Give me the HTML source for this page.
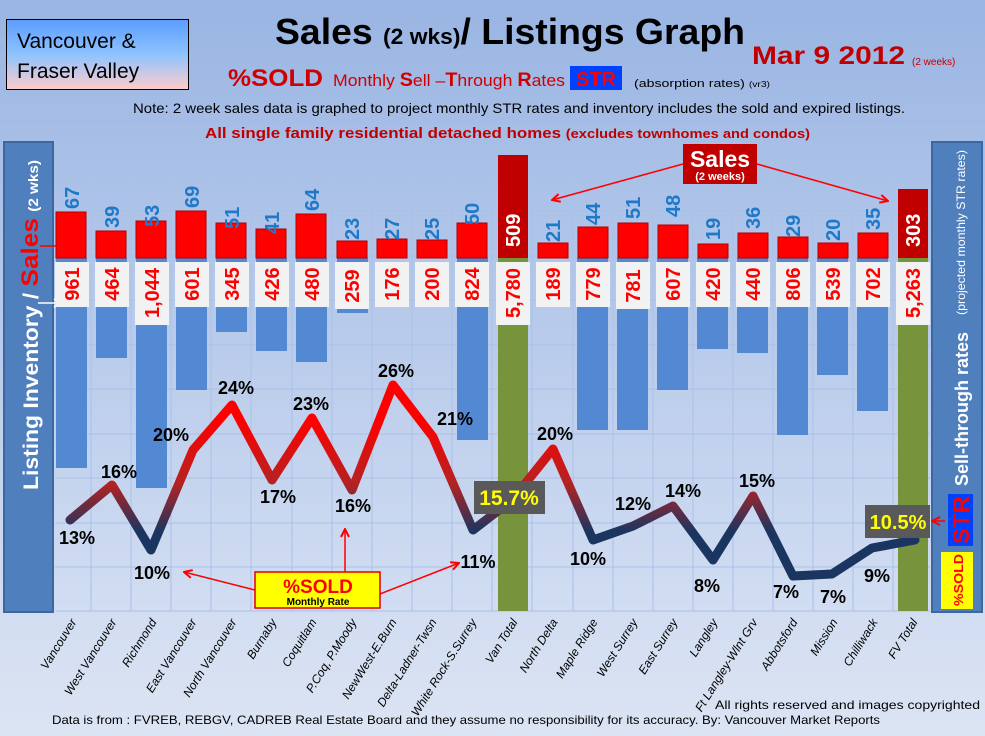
<!DOCTYPE html>
<html><head><meta charset="utf-8"><style>
html,body{margin:0;padding:0;width:985px;height:736px;overflow:hidden;font-family:"Liberation Sans",sans-serif}
</style></head><body>
<svg width="985" height="736" viewBox="0 0 985 736" xmlns="http://www.w3.org/2000/svg" font-family="Liberation Sans, sans-serif">
<defs>
<linearGradient id="bg" x1="0" y1="0" x2="0" y2="1"><stop offset="0" stop-color="#9ab5e3"/><stop offset="0.85" stop-color="#d3def2"/><stop offset="1" stop-color="#dbe4f3"/></linearGradient>
<linearGradient id="vb" x1="0" y1="0" x2="0" y2="1"><stop offset="0" stop-color="#5b9dff"/><stop offset="0.5" stop-color="#8ec3ff"/><stop offset="1" stop-color="#ffcccc"/></linearGradient>
<linearGradient id="ln" gradientUnits="userSpaceOnUse" x1="0" y1="420" x2="0" y2="560"><stop offset="0" stop-color="#ff0000"/><stop offset="0.45" stop-color="#b52222"/><stop offset="0.8" stop-color="#1a3560"/><stop offset="1" stop-color="#1a3560"/></linearGradient>
<marker id="ar" markerWidth="10" markerHeight="10" refX="9" refY="5" orient="auto" markerUnits="userSpaceOnUse"><path d="M1,1 L9,5 L1,9" fill="none" stroke="#f00" stroke-width="2"/></marker>
<marker id="aw" markerWidth="10" markerHeight="10" refX="9" refY="5" orient="auto" markerUnits="userSpaceOnUse"><path d="M1,1 L9,5 L1,9" fill="none" stroke="#fff" stroke-width="2"/></marker>
</defs>
<rect width="985" height="736" fill="url(#bg)"/>
<!-- grid -->
<g stroke="#a9c1e9" stroke-width="1">
<line x1="55" y1="167" x2="930" y2="167"/><line x1="55" y1="211" x2="930" y2="211"/><line x1="55" y1="256" x2="930" y2="256"/><line x1="55" y1="300" x2="930" y2="300"/><line x1="55" y1="345" x2="930" y2="345"/><line x1="55" y1="389" x2="930" y2="389"/><line x1="55" y1="434" x2="930" y2="434"/><line x1="55" y1="478" x2="930" y2="478"/><line x1="55" y1="523" x2="930" y2="523"/><line x1="55" y1="567" x2="930" y2="567"/><line x1="55" y1="611" x2="930" y2="611"/>
<line x1="91" y1="155" x2="91" y2="611"/><line x1="131" y1="155" x2="131" y2="611"/><line x1="171" y1="155" x2="171" y2="611"/><line x1="211" y1="155" x2="211" y2="611"/><line x1="251" y1="155" x2="251" y2="611"/><line x1="292" y1="155" x2="292" y2="611"/><line x1="332" y1="155" x2="332" y2="611"/><line x1="372" y1="155" x2="372" y2="611"/><line x1="412" y1="155" x2="412" y2="611"/><line x1="452" y1="155" x2="452" y2="611"/><line x1="492" y1="155" x2="492" y2="611"/><line x1="532" y1="155" x2="532" y2="611"/><line x1="573" y1="155" x2="573" y2="611"/><line x1="613" y1="155" x2="613" y2="611"/><line x1="653" y1="155" x2="653" y2="611"/><line x1="693" y1="155" x2="693" y2="611"/><line x1="733" y1="155" x2="733" y2="611"/><line x1="773" y1="155" x2="773" y2="611"/><line x1="813" y1="155" x2="813" y2="611"/><line x1="853" y1="155" x2="853" y2="611"/><line x1="893" y1="155" x2="893" y2="611"/>
</g>
<!-- header -->
<rect x="6.5" y="19.5" width="182" height="70" fill="url(#vb)" stroke="#000"/>
<text x="17" y="48" font-size="21">Vancouver &amp;</text>
<text x="17" y="78" font-size="21">Fraser Valley</text>
<text x="510" y="44" font-size="36" font-weight="bold" text-anchor="middle" textLength="470" lengthAdjust="spacingAndGlyphs">Sales <tspan font-size="22">(2 wks)</tspan>/ Listings Graph</text>
<text x="752" y="64" font-size="25" font-weight="bold" fill="#c00000" textLength="153" lengthAdjust="spacingAndGlyphs">Mar 9 2012</text>
<text x="912" y="65" font-size="10" fill="#c00000">(2 weeks)</text>
<text x="228" y="86" font-size="24" font-weight="bold" fill="#d00000" textLength="95" lengthAdjust="spacingAndGlyphs">%SOLD</text>
<text x="333" y="86" font-size="17" fill="#d00000" textLength="232" lengthAdjust="spacingAndGlyphs">Monthly <tspan font-weight="bold" font-size="19">S</tspan>ell –<tspan font-weight="bold" font-size="19">T</tspan>hrough <tspan font-weight="bold" font-size="19">R</tspan>ates</text>
<rect x="570" y="66" width="52" height="24" fill="#0040ff"/>
<text x="596" y="86" font-size="20" font-weight="bold" fill="#f00" text-anchor="middle">STR</text>
<text x="634" y="87" font-size="11" fill="#000" textLength="136" lengthAdjust="spacingAndGlyphs">(absorption rates) <tspan font-size="8">(vr3)</tspan></text>
<text x="133" y="113" font-size="14" textLength="772" lengthAdjust="spacingAndGlyphs">Note: 2 week sales data is graphed to project monthly STR rates and inventory includes the sold and expired listings.</text>
<text x="205" y="138" font-size="15" font-weight="bold" fill="#c00000" textLength="605" lengthAdjust="spacingAndGlyphs">All single family residential detached homes <tspan font-size="13">(excludes townhomes and condos)</tspan></text>
<!-- side panels -->
<rect x="4" y="142" width="49" height="470" fill="#4f7fbd" stroke="#3d679f" stroke-width="2"/>
<text transform="translate(38,490) rotate(-90)" font-size="21" font-weight="bold" fill="#fff" textLength="330" lengthAdjust="spacingAndGlyphs">Listing Inventory / <tspan fill="#f00" font-size="24">Sales</tspan> <tspan font-size="14">(2  wks)</tspan></text>
<line x1="40" y1="246" x2="66" y2="246" stroke="#f00" stroke-width="1.5" marker-end="url(#ar)"/>
<line x1="38" y1="303" x2="62" y2="303" stroke="#fff" stroke-width="1.5" marker-end="url(#aw)"/>
<rect x="932" y="142" width="50" height="470" fill="#4f7fbd" stroke="#3d679f" stroke-width="2"/>
<text transform="translate(968,486) rotate(-90)" font-size="18" font-weight="bold" fill="#fff" textLength="154" lengthAdjust="spacingAndGlyphs">Sell-through rates</text>
<text transform="translate(965,315) rotate(-90)" font-size="12" fill="#fff" textLength="165" lengthAdjust="spacingAndGlyphs">(projected monthly STR rates)</text>
<rect x="948" y="494" width="25" height="52" fill="#0040ff"/>
<text transform="translate(969,544) rotate(-90)" font-size="22" font-weight="bold" fill="#f00" textLength="48" lengthAdjust="spacingAndGlyphs">STR</text>
<rect x="941" y="552" width="32" height="57" fill="#ff0"/>
<text transform="translate(963,606) rotate(-90)" font-size="13" font-weight="bold" fill="#f00" textLength="52" lengthAdjust="spacingAndGlyphs">%SOLD</text>
<!-- olive total bars -->
<rect x="498" y="258" width="30" height="353" fill="#77933c"/>
<rect x="898" y="258" width="30" height="353" fill="#77933c"/>
<!-- blue bars -->
<g fill="#5389d3">
<rect x="56" y="258" width="31" height="210"/><rect x="96" y="258" width="31" height="100"/><rect x="136" y="258" width="31" height="230"/><rect x="176" y="258" width="31" height="132"/><rect x="216" y="258" width="31" height="74"/><rect x="256" y="258" width="31" height="93"/><rect x="296" y="258" width="31" height="104"/><rect x="337" y="258" width="31" height="55"/><rect x="457" y="258" width="31" height="182"/><rect x="577" y="258" width="31" height="172"/><rect x="617" y="258" width="31" height="172"/><rect x="657" y="258" width="31" height="132"/><rect x="697" y="258" width="31" height="91"/><rect x="737" y="258" width="31" height="95"/><rect x="777" y="258" width="31" height="177"/><rect x="817" y="258" width="31" height="117"/><rect x="857" y="258" width="31" height="153"/>
</g>
<!-- red bars -->
<g fill="#ff0000" stroke="#b00000" stroke-width="1">
<rect x="56" y="212" width="30" height="46"/><rect x="96" y="231" width="30" height="27"/><rect x="136" y="221" width="30" height="37"/><rect x="176" y="211" width="30" height="47"/><rect x="216" y="223" width="30" height="35"/><rect x="256" y="229" width="30" height="29"/><rect x="296" y="214" width="30" height="44"/><rect x="337" y="241" width="30" height="17"/><rect x="377" y="239" width="30" height="19"/><rect x="417" y="240" width="30" height="18"/><rect x="457" y="223" width="30" height="35"/><rect x="538" y="243" width="30" height="15"/><rect x="578" y="227" width="30" height="31"/><rect x="618" y="223" width="30" height="35"/><rect x="658" y="225" width="30" height="33"/><rect x="698" y="244" width="30" height="14"/><rect x="738" y="233" width="30" height="25"/><rect x="778" y="237" width="30" height="21"/><rect x="818" y="243" width="30" height="15"/><rect x="858" y="233" width="30" height="25"/>
</g>
<rect x="498" y="155" width="30" height="103" fill="#c00000"/>
<rect x="898" y="189" width="30" height="69" fill="#c00000"/>
<!-- blue sales labels -->
<g font-size="20" font-weight="bold" fill="#1f78c8">
<text transform="translate(79,209) rotate(-90)">67</text><text transform="translate(119,228) rotate(-90)">39</text><text transform="translate(159,227) rotate(-90)">53</text><text transform="translate(199,208) rotate(-90)">69</text><text transform="translate(239,229) rotate(-90)">51</text><text transform="translate(279,234) rotate(-90)">41</text><text transform="translate(319,211) rotate(-90)">64</text><text transform="translate(359,240) rotate(-90)">23</text><text transform="translate(399,240) rotate(-90)">27</text><text transform="translate(439,240) rotate(-90)">25</text><text transform="translate(479,225) rotate(-90)">50</text><text transform="translate(560,242) rotate(-90)">21</text><text transform="translate(600,225) rotate(-90)">44</text><text transform="translate(640,219) rotate(-90)">51</text><text transform="translate(680,217) rotate(-90)">48</text><text transform="translate(720,240) rotate(-90)">19</text><text transform="translate(760,229) rotate(-90)">36</text><text transform="translate(800,237) rotate(-90)">29</text><text transform="translate(840,241) rotate(-90)">20</text><text transform="translate(880,230) rotate(-90)">35</text>
</g>
<text transform="translate(520,247) rotate(-90)" font-size="20" font-weight="bold" fill="#fff">509</text>
<text transform="translate(920,247) rotate(-90)" font-size="20" font-weight="bold" fill="#fff">303</text>
<!-- inventory label boxes -->
<g fill="#f2f2f2">
<rect x="55" y="262" width="34" height="45"/><rect x="95" y="262" width="34" height="45"/><rect x="135" y="262" width="34" height="63"/><rect x="175" y="262" width="34" height="45"/><rect x="215" y="262" width="34" height="45"/><rect x="255" y="262" width="34" height="45"/><rect x="295" y="262" width="34" height="45"/><rect x="335" y="262" width="34" height="47"/><rect x="375" y="262" width="34" height="45"/><rect x="415" y="262" width="34" height="45"/><rect x="455" y="262" width="34" height="45"/><rect x="496" y="262" width="34" height="63"/><rect x="536" y="262" width="34" height="45"/><rect x="576" y="262" width="34" height="45"/><rect x="616" y="262" width="34" height="47"/><rect x="656" y="262" width="34" height="45"/><rect x="696" y="262" width="34" height="45"/><rect x="736" y="262" width="34" height="45"/><rect x="776" y="262" width="34" height="45"/><rect x="816" y="262" width="34" height="45"/><rect x="856" y="262" width="34" height="45"/><rect x="896" y="262" width="34" height="63"/>
</g>
<g font-size="20" font-weight="bold" fill="#f00" text-anchor="middle">
<text transform="translate(79,284) rotate(-90)">961</text><text transform="translate(119,284) rotate(-90)">464</text><text transform="translate(159,293) rotate(-90)">1,044</text><text transform="translate(199,284) rotate(-90)">601</text><text transform="translate(239,284) rotate(-90)">345</text><text transform="translate(279,284) rotate(-90)">426</text><text transform="translate(319,284) rotate(-90)">480</text><text transform="translate(359,286) rotate(-90)">259</text><text transform="translate(399,284) rotate(-90)">176</text><text transform="translate(439,284) rotate(-90)">200</text><text transform="translate(479,284) rotate(-90)">824</text><text transform="translate(520,293) rotate(-90)">5,780</text><text transform="translate(560,284) rotate(-90)">189</text><text transform="translate(600,284) rotate(-90)">779</text><text transform="translate(640,286) rotate(-90)">781</text><text transform="translate(680,284) rotate(-90)">607</text><text transform="translate(720,284) rotate(-90)">420</text><text transform="translate(760,284) rotate(-90)">440</text><text transform="translate(800,284) rotate(-90)">806</text><text transform="translate(840,284) rotate(-90)">539</text><text transform="translate(880,284) rotate(-90)">702</text><text transform="translate(920,293) rotate(-90)">5,263</text>
</g>
<!-- STR line -->
<polyline points="70,520 112,485 151,550 193,450 232,405 272,480 312,418 352,490 393,385 433,437 473,530 512,500 553,449 593,540 633,526 673,506 713,560 753,496 793,576 832,574 872,548 915,540" fill="none" stroke="url(#ln)" stroke-width="9" stroke-linejoin="round" stroke-linecap="round"/>
<g font-size="18" font-weight="bold" fill="#000" text-anchor="middle">
<text x="77" y="544">13%</text><text x="119" y="478">16%</text><text x="152" y="579">10%</text><text x="171" y="441">20%</text><text x="236" y="394">24%</text><text x="278" y="503">17%</text><text x="311" y="410">23%</text><text x="353" y="512">16%</text><text x="396" y="377">26%</text><text x="455" y="425">21%</text><text x="478" y="568">11%</text><text x="555" y="440">20%</text><text x="588" y="565">10%</text><text x="633" y="510">12%</text><text x="683" y="497">14%</text><text x="757" y="487">15%</text><text x="707" y="592">8%</text><text x="786" y="598">7%</text><text x="833" y="603">7%</text><text x="877" y="582">9%</text>
</g>
<rect x="474" y="481" width="71" height="33" fill="#595959"/>
<text x="509" y="505" font-size="21" font-weight="bold" fill="#ff0" text-anchor="middle">15.7%</text>
<rect x="865" y="505" width="65" height="33" fill="#595959"/>
<text x="898" y="529" font-size="20" font-weight="bold" fill="#ff0" text-anchor="middle">10.5%</text>
<line x1="945" y1="521" x2="932" y2="521" stroke="#f00" stroke-width="1.5" marker-end="url(#ar)"/>
<!-- Sales callout -->
<line x1="683" y1="164" x2="552" y2="200" stroke="#f00" stroke-width="1.5" marker-end="url(#ar)"/>
<line x1="757" y1="164" x2="888" y2="201" stroke="#f00" stroke-width="1.5" marker-end="url(#ar)"/>
<rect x="683" y="144" width="74" height="40" fill="#c00000"/>
<text x="720" y="167" font-size="23" font-weight="bold" fill="#fff" text-anchor="middle">Sales</text>
<text x="720" y="180" font-size="11" font-weight="bold" fill="#fff" text-anchor="middle">(2 weeks)</text>
<!-- %SOLD callout -->
<line x1="255" y1="590" x2="184" y2="572" stroke="#f00" stroke-width="1.5" marker-end="url(#ar)"/>
<line x1="345" y1="572" x2="345" y2="529" stroke="#f00" stroke-width="1.5" marker-end="url(#ar)"/>
<line x1="380" y1="594" x2="459" y2="563" stroke="#f00" stroke-width="1.5" marker-end="url(#ar)"/>
<rect x="255" y="572" width="125" height="36" fill="#ff0" stroke="#e00000" stroke-width="1.5"/>
<text x="318" y="593" font-size="19" font-weight="bold" fill="#f00" text-anchor="middle">%SOLD</text>
<text x="318" y="605" font-size="10" font-weight="bold" fill="#000" text-anchor="middle">Monthly Rate</text>
<!-- category labels -->
<g font-size="12" font-style="italic" fill="#000" text-anchor="end">
<text transform="translate(77,622) rotate(-58)">Vancouver</text><text transform="translate(117,622) rotate(-58)">West Vancouver</text><text transform="translate(157,622) rotate(-58)">Richmond</text><text transform="translate(197,622) rotate(-58)">East Vancouver</text><text transform="translate(237,622) rotate(-58)">North Vancouver</text><text transform="translate(277,622) rotate(-58)">Burnaby</text><text transform="translate(317,622) rotate(-58)">Coquitlam</text><text transform="translate(357,622) rotate(-58)">P.Coq, P.Moody</text><text transform="translate(397,622) rotate(-58)">NewWest-E.Burn</text><text transform="translate(437,622) rotate(-58)">Delta-Ladner-Twsn</text><text transform="translate(477,622) rotate(-58)">White Rock-S.Surrey</text><text transform="translate(518,622) rotate(-58)">Van Total</text><text transform="translate(558,622) rotate(-58)">North Delta</text><text transform="translate(598,622) rotate(-58)">Maple Ridge</text><text transform="translate(638,622) rotate(-58)">West Surrey</text><text transform="translate(678,622) rotate(-58)">East Surrey</text><text transform="translate(718,622) rotate(-58)">Langley</text><text transform="translate(758,622) rotate(-58)">Ft Langley-Wlnt Grv</text><text transform="translate(798,622) rotate(-58)">Abbotsford</text><text transform="translate(838,622) rotate(-58)">Mission</text><text transform="translate(878,622) rotate(-58)">Chilliwack</text><text transform="translate(918,622) rotate(-58)">FV Total</text>
</g>
<text x="715" y="709" font-size="12" textLength="265" lengthAdjust="spacingAndGlyphs">All rights reserved and  images copyrighted</text>
<text x="52" y="724" font-size="12" textLength="828" lengthAdjust="spacingAndGlyphs">Data is from : FVREB, REBGV, CADREB Real Estate Board and they assume no responsibility for its accuracy. By: Vancouver Market Reports</text>
</svg>
</body></html>
